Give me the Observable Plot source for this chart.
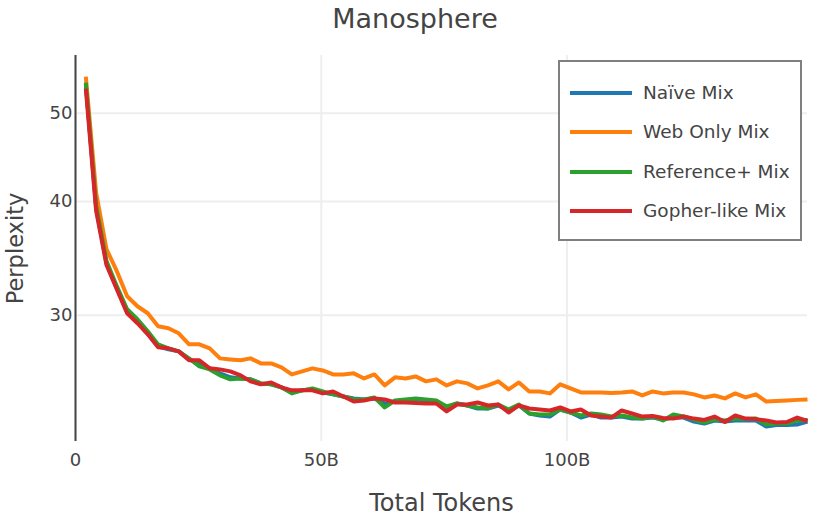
<!DOCTYPE html>
<html><head><meta charset="utf-8">
<script src="https://cdn.jsdelivr.net/npm/d3@7"></script>
<script src="https://cdn.jsdelivr.net/npm/@observablehq/plot@0.6"></script>
<style>
body{margin:0;background:#fff;}
#wrap{position:relative;width:830px;height:520px;font-family:"DejaVu Sans",sans-serif;color:#444;}
#title{position:absolute;top:3px;left:0;width:830px;text-align:center;font-size:27px;}
#legend{position:absolute;left:558px;top:60px;width:240px;height:177px;border:2px solid #7f7f7f;background:#fff;}
.sw{position:absolute;left:10px;width:62px;height:4px;}
.lab{position:absolute;left:83px;font-size:18.5px;white-space:nowrap;line-height:22px;}
</style></head>
<body>
<div id="wrap"><div id="title">Manosphere</div><div id="legend"></div></div>
<script>
const title = "Manosphere";
const xLabel = "Total Tokens";
const yLabel = "Perplexity";
const seriesNames = ["Naïve Mix", "Web Only Mix", "Reference+ Mix", "Gopher-like Mix"];
const seriesColors = ["#1f77b4", "#ff7f0e", "#2ca02c", "#d62728"];
const xTicks = [0, 50, 100];
const xTickLabels = ["0", "50B", "100B"];
const yTicks = [30, 40, 50];

// tokens in billions
const tokens = [2.1,4.2,6.3,8.4,10.5,12.6,14.7,16.8,18.9,21.0,23.1,25.2,27.3,29.4,31.5,33.6,35.6,37.7,39.8,41.9,44.0,46.1,48.2,50.3,52.4,54.5,56.6,58.7,60.8,62.9,65.0,67.1,69.2,71.3,73.4,75.5,77.6,79.7,81.8,83.9,86.0,88.1,90.2,92.3,94.4,96.5,98.6,100.7,102.8,104.9,106.9,109.0,111.1,113.2,115.3,117.4,119.5,121.6,123.7,125.8,127.9,130.0,132.1,134.2,136.3,138.4,140.5,142.6,144.7,146.8,148.9];

const naive = [53.76,39.35,34.23,32.13,30.23,29.55,28.66,27.73,27.52,27.38,26.83,26.56,26.23,25.90,25.64,25.57,25.51,25.25,25.19,25.00,24.68,24.81,24.87,24.68,24.56,24.43,24.31,24.25,24.31,24.00,24.12,24.18,24.25,24.18,24.12,23.76,24.00,23.88,23.70,23.70,23.88,23.58,23.88,23.40,23.28,23.22,23.64,23.46,23.16,23.34,23.16,23.16,23.22,23.10,23.10,23.16,23.05,23.16,23.16,22.93,22.81,22.99,22.93,22.99,22.99,22.99,22.64,22.73,22.73,22.76,22.93];
const webOnly = [54.86,40.88,35.47,33.54,31.48,30.69,30.15,29.17,29.03,28.66,27.87,27.87,27.59,26.90,26.83,26.77,26.90,26.56,26.56,26.29,25.83,26.03,26.23,26.09,25.83,25.83,25.90,25.57,25.83,25.12,25.64,25.57,25.70,25.38,25.51,25.12,25.38,25.25,24.93,25.12,25.38,24.87,25.31,24.74,24.74,24.62,25.19,24.93,24.68,24.68,24.68,24.65,24.68,24.74,24.49,24.74,24.62,24.68,24.68,24.56,24.37,24.49,24.31,24.62,24.37,24.56,24.12,24.15,24.18,24.22,24.25];
const referencePlus = [54.03,39.55,34.40,32.29,30.46,29.70,28.81,27.87,27.59,27.38,26.90,26.36,26.16,25.77,25.51,25.57,25.51,25.25,25.19,25.00,24.62,24.81,24.93,24.74,24.56,24.43,24.25,24.25,24.37,23.76,24.18,24.25,24.31,24.25,24.18,23.82,24.00,23.88,23.76,23.70,23.94,23.64,23.94,23.40,23.34,23.34,23.64,23.46,23.28,23.40,23.34,23.22,23.28,23.16,23.10,23.22,22.99,23.34,23.22,23.05,22.87,23.05,22.99,23.10,23.07,23.10,22.76,22.81,22.81,22.99,23.02];
const gopherLike = [53.21,39.05,34.06,32.05,30.15,29.40,28.59,27.66,27.59,27.38,26.77,26.77,26.23,26.16,26.03,25.77,25.38,25.19,25.31,25.00,24.81,24.81,24.81,24.62,24.74,24.43,24.12,24.18,24.31,24.25,24.06,24.06,24.03,24.00,24.00,23.52,23.94,23.94,24.06,23.88,23.94,23.46,23.88,23.70,23.64,23.58,23.76,23.52,23.64,23.28,23.22,23.16,23.58,23.40,23.22,23.25,23.13,23.10,23.22,23.10,23.02,23.22,22.90,23.28,23.10,23.07,22.99,22.87,22.90,23.16,22.96];

const seriesValues = [naive, webOnly, referencePlus, gopherLike];

const lines = seriesValues.map((vals, i) =>
  Plot.line(vals, {x: tokens, y: d => d, stroke: seriesColors[i], strokeWidth: 4, strokeLinecap: "butt", strokeLinejoin: "round"})
);

const chart = Plot.plot({
  width: 830, height: 520,
  marginLeft: 75, marginRight: 23, marginTop: 55, marginBottom: 79,
  style: {fontFamily: "DejaVu Sans, sans-serif", fontSize: "18px", color: "#444", background: "transparent"},
  x: {domain: [0, 148.9]},
  y: {type: "log", domain: [21.8, 57.86]},
  marks: [
    Plot.gridY(yTicks, {stroke: "#eeeeee", strokeOpacity: 1, strokeWidth: 2}),
    Plot.gridX(xTicks, {stroke: "#eeeeee", strokeOpacity: 1, strokeWidth: 2}),
    Plot.axisY(yTicks, {tickSize: 0, tickPadding: 3, tickFormat: d => String(d), label: null, fill: "#444", fontSize: 18}),
    Plot.axisX(xTicks, {tickSize: 0, tickPadding: 12, tickFormat: (d, i) => xTickLabels[xTicks.indexOf(d)], label: null, fill: "#444", fontSize: 18}),
    Plot.text([yLabel], {frameAnchor: "left", dx: -60, rotate: -90, textAnchor: "middle", fontSize: 22.5, fill: "#444"}),
    Plot.text([xLabel], {frameAnchor: "bottom", dy: 69, textAnchor: "middle", fontSize: 24, fill: "#444"}),
    Plot.ruleX([0], {stroke: "#444", strokeWidth: 2}),
    ...lines
  ]
});
const wrap = document.getElementById("wrap");
chart.style.position = "absolute";
chart.style.left = "0"; chart.style.top = "0";
wrap.insertBefore(chart, wrap.firstChild);
document.getElementById("title").textContent = title;

const legend = document.getElementById("legend");
const rowY = [31, 70, 110, 149];
seriesNames.forEach((name, i) => {
  const sw = document.createElement("div");
  sw.className = "sw"; sw.style.background = seriesColors[i]; sw.style.top = (rowY[i] - 2) + "px";
  const lab = document.createElement("div");
  lab.className = "lab"; lab.textContent = name; lab.style.top = (rowY[i] - 11) + "px";
  legend.appendChild(sw); legend.appendChild(lab);
});
</script>
</body></html>
